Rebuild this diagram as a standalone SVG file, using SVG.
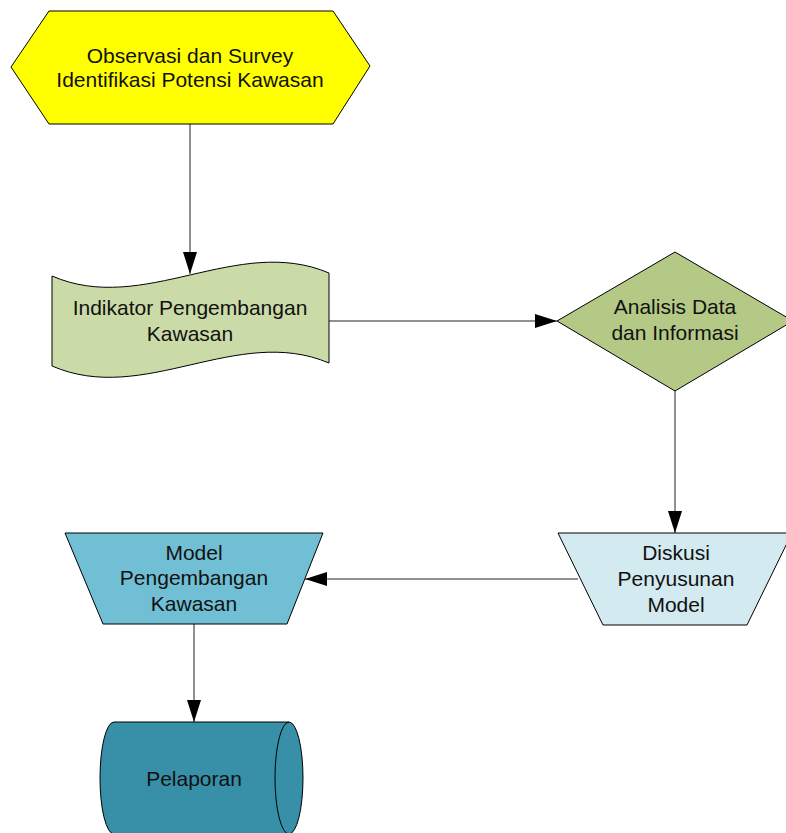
<svg xmlns="http://www.w3.org/2000/svg" width="786" height="833" viewBox="0 0 786 833">
<style>
.s{stroke:#000;stroke-width:1;}
.t{font-family:"Liberation Sans",Arial,sans-serif;font-size:21px;fill:#111;text-anchor:middle;}
.c{stroke:#222;stroke-width:1;fill:none;marker-end:url(#ah);}
</style>
<defs>
<marker id="ah" markerUnits="userSpaceOnUse" markerWidth="24" markerHeight="16" refX="22" refY="7" orient="auto">
<path d="M0,0 L22,7 L0,14 Z" fill="#000"/>
</marker>
</defs>
<rect width="786" height="833" fill="#fff"/>
<g id="connectors">
<line class="c" x1="190" y1="124" x2="190" y2="274"/>
<line class="c" x1="329" y1="321" x2="557" y2="321"/>
<line class="c" x1="675" y1="391" x2="675" y2="533"/>
<line class="c" x1="578" y1="579" x2="305" y2="579"/>
<line class="c" x1="194" y1="624" x2="194" y2="722"/>
</g>
<g id="observasi">
<polygon class="s" points="49,11 333,11 370,66 333,124 49,124 11,67" fill="#FFFF00"/>
<text class="t" x="190" y="63">Observasi dan Survey</text>
<text class="t" x="190" y="87">Identifikasi Potensi Kawasan</text>
</g>
<g id="indikator">
<path class="s" d="M52,276 C144,316 237,234 329,273 L329,363 C237,324 144,406 52,366 Z" fill="#CBDBA7"/>
<text class="t" x="190" y="315">Indikator Pengembangan</text>
<text class="t" x="190" y="341">Kawasan</text>
</g>
<g id="analisis">
<polygon class="s" points="675,252 793,321 675,391 557,321" fill="#B4C985"/>
<text class="t" x="675" y="314">Analisis Data</text>
<text class="t" x="675" y="340">dan Informasi</text>
</g>
<g id="diskusi">
<polygon class="s" points="558,533 792,533 747,625 603,625" fill="#D2EAF0"/>
<text class="t" x="676" y="560">Diskusi</text>
<text class="t" x="676" y="586">Penyusunan</text>
<text class="t" x="676" y="612">Model</text>
</g>
<g id="model">
<polygon class="s" points="65,533 323,533 287,624 103,624" fill="#71BFD4"/>
<text class="t" x="194" y="560">Model</text>
<text class="t" x="194" y="585">Pengembangan</text>
<text class="t" x="194" y="611">Kawasan</text>
</g>
<g id="pelaporan">
<path class="s" d="M114,722 L289,722 A14,56 0 0 1 289,834 L114,834 A14,56 0 0 1 114,722 Z" fill="#378FA8"/>
<path class="s" d="M289,722 A14,56 0 0 0 289,834" fill="none"/>
<text class="t" x="194" y="786">Pelaporan</text>
</g>
</svg>
